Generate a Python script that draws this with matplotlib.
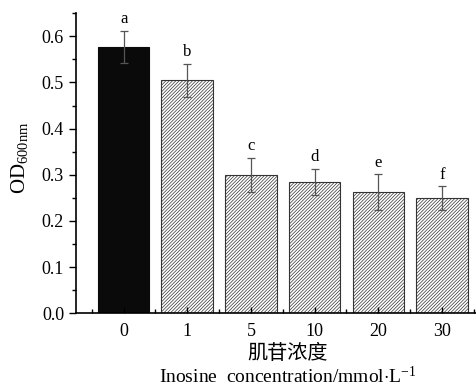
import matplotlib.pyplot as plt
from matplotlib.ticker import MultipleLocator, FixedLocator

FILE = 'out.png'

CATEGORIES = ['0', '1', '5', '10', '20', '30']
OD_VALUES = [0.577, 0.505, 0.300, 0.284, 0.262, 0.249]
OD_ERRORS = [0.035, 0.036, 0.037, 0.028, 0.039, 0.026]
LETTERS = ['a', 'b', 'c', 'd', 'e', 'f']


def main():
    plt.rcParams['font.family'] = ['Liberation Serif', 'DejaVu Serif']
    plt.rcParams['mathtext.fontset'] = 'custom'
    plt.rcParams['mathtext.rm'] = 'Liberation Serif'
    plt.rcParams['mathtext.it'] = 'Liberation Serif:italic'
    plt.rcParams['hatch.linewidth'] = 0.5
    plt.rcParams['hatch.color'] = '#333333'

    fig = plt.figure(figsize=(4.77, 3.89), dpi=100)
    ax = fig.add_axes([0.159, 0.195, 0.841, 0.771])

    x = list(range(len(CATEGORIES)))

    # Control bar is solid black, the rest are hatched
    for i in x:
        if i == 0:
            ax.bar(i, OD_VALUES[i], width=0.81, color='#0a0a0a', edgecolor='#0a0a0a', linewidth=0.8)
        else:
            ax.bar(i, OD_VALUES[i], width=0.81, color='white', edgecolor='#333333',
                   hatch='//////////', linewidth=0.8)

    ax.errorbar(x, OD_VALUES, yerr=OD_ERRORS, fmt='none', ecolor='#555555',
                elinewidth=0.9, capsize=3, capthick=0.9)

    for i in x:
        ax.text(i, OD_VALUES[i] + OD_ERRORS[i] + 0.008, LETTERS[i], ha='center', va='bottom', fontsize=12)

    # Axes styling
    ax.set_xlim(-0.75, 5.55)
    ax.set_ylim(0, 0.65)
    ax.spines['top'].set_visible(False)
    ax.spines['right'].set_visible(False)
    ax.spines['left'].set_linewidth(1.2)
    ax.spines['bottom'].set_linewidth(1.2)

    ax.set_xticks(x)
    ax.set_xticklabels(CATEGORIES)
    ax.xaxis.set_minor_locator(FixedLocator([i + 0.5 for i in range(-1, len(CATEGORIES))]))
    ax.tick_params(axis='x', which='major', direction='in', length=4, width=1, labelsize=13, pad=7)
    ax.tick_params(axis='x', which='minor', direction='in', length=3, width=1)

    ax.yaxis.set_major_locator(MultipleLocator(0.1))
    ax.yaxis.set_minor_locator(MultipleLocator(0.05))
    ax.yaxis.set_major_formatter(plt.FormatStrFormatter('%.1f'))
    ax.tick_params(axis='y', which='major', direction='out', length=5, width=1, labelsize=13)
    ax.tick_params(axis='y', which='minor', direction='out', length=3, width=1)

    ax.set_ylabel('OD$_{\\mathrm{600nm}}$', fontsize=15)
    ax.yaxis.set_label_coords(-0.115, 0.52)

    fig.text(0.603, 0.09, '肌苷浓度', ha='center', va='center', fontsize=14.5,
             family=['Noto Sans CJK SC', 'DejaVu Sans'])
    fig.text(0.603, 0.032, 'Inosine  concentration/mmol$\\cdot$L$^{-1}$', ha='center', va='center',
             fontsize=14)

    fig.savefig(FILE, dpi=100)


if __name__ == '__main__':
    main()
